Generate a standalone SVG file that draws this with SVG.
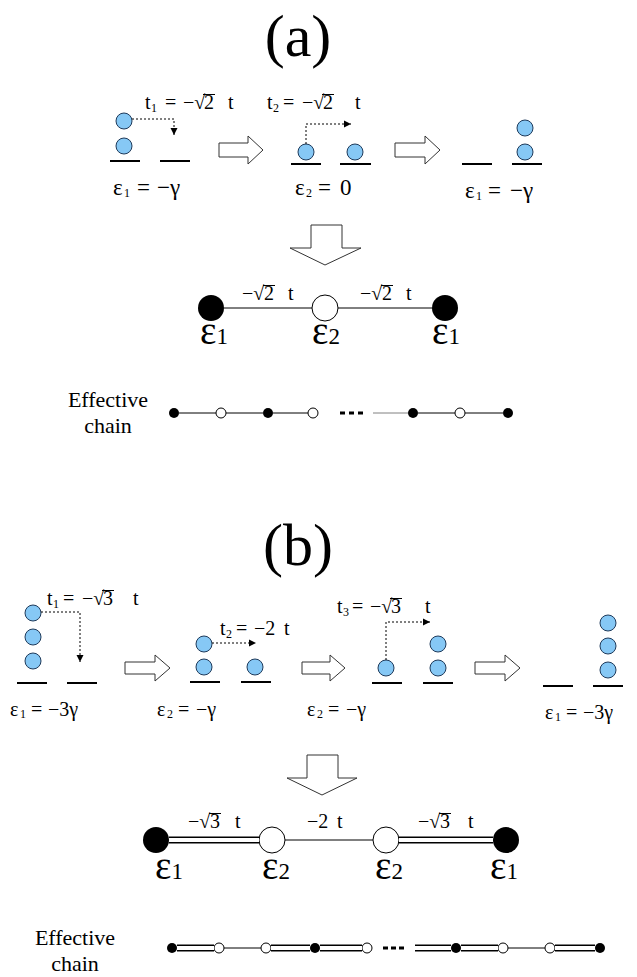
<svg xmlns="http://www.w3.org/2000/svg" width="637" height="977" viewBox="0 0 637 977" font-family="'Liberation Serif', 'Times New Roman', serif">
<defs>
<style>
text{font-family:'Liberation Serif','Times New Roman',serif;fill:#000}
.t{font-size:20px}
.s{font-size:12px}
.e{font-size:23px}
.eb{font-size:20px}
.big{font-size:39px}
.lab{font-size:22px}
.ttl{font-size:60px}
.lvl{stroke:#000;stroke-width:2}
.el{fill:#86c8f5;stroke:#1f3a5a;stroke-width:1}
.hop{fill:none;stroke:#000;stroke-width:1;stroke-dasharray:2 2}
.blk{fill:#fff;stroke:#333;stroke-width:1}
.ln{stroke:#000;stroke-width:1}
.vc{stroke:#000;stroke-width:1}
.dbo{stroke:#000;stroke-width:7}
.dbi{stroke:#fff;stroke-width:4}
.on{fill:#000}
.of{fill:#fff;stroke:#000;stroke-width:1}
</style>
<marker id="ah" markerWidth="8" markerHeight="8" refX="7" refY="4" orient="auto" markerUnits="userSpaceOnUse">
<path d="M0,0.5 L7,4 L0,7.5 Z" fill="#000"/>
</marker>
</defs>

<text class="ttl" x="298" y="56" text-anchor="middle">(a)</text>

<g id="a-panel1">
<circle class="el" cx="124" cy="121" r="8"/>
<circle class="el" cx="124" cy="146" r="8"/>
<line class="lvl" x1="110" y1="161" x2="140" y2="161"/>
<line class="lvl" x1="160" y1="161" x2="190" y2="161"/>
<text class="t" y="109"><tspan x="145">t</tspan><tspan class="s" x="151" dy="3">1</tspan><tspan x="165" dy="-3">=</tspan><tspan x="183">−√</tspan><tspan x="204">2</tspan><tspan x="228">t</tspan></text>
<line class="vc" x1="203" y1="94.5" x2="215" y2="94.5"/>
<text class="e" y="195"><tspan x="113">ε</tspan><tspan class="s" x="124" dy="2">1</tspan><tspan x="137" dy="-2">=</tspan><tspan x="157">−γ</tspan></text>
</g>
<g id="a-panel2">
<circle class="el" cx="306" cy="152" r="8"/>
<circle class="el" cx="355" cy="152" r="8"/>
<line class="lvl" x1="291" y1="164" x2="321" y2="164"/>
<line class="lvl" x1="340" y1="164" x2="371" y2="164"/>
<text class="t" y="109"><tspan x="267">t</tspan><tspan class="s" x="273" dy="3">2</tspan><tspan x="283" dy="-3">=</tspan><tspan x="302">−√</tspan><tspan x="323">2</tspan><tspan x="355">t</tspan></text>
<line class="vc" x1="322" y1="94.5" x2="334" y2="94.5"/>
<text class="e" y="195"><tspan x="295">ε</tspan><tspan class="s" x="306" dy="2">2</tspan><tspan x="318" dy="-2">=</tspan><tspan x="340">0</tspan></text>
</g>
<g id="a-panel3">
<circle class="el" cx="525" cy="128" r="8"/>
<circle class="el" cx="525" cy="152" r="8"/>
<line class="lvl" x1="462" y1="164" x2="492" y2="164"/>
<line class="lvl" x1="512" y1="164" x2="542" y2="164"/>
<text class="e" y="198"><tspan x="465">ε</tspan><tspan class="s" x="476" dy="2">1</tspan><tspan x="488" dy="-2">=</tspan><tspan x="510">−γ</tspan></text>
</g>

<g id="a-chain">
<circle class="on" cx="211" cy="308" r="13"/>
<circle class="of" cx="325" cy="308" r="13"/>
<circle class="on" cx="445" cy="308" r="13"/>
<text class="big" x="200" y="344">ε<tspan font-size="23">1</tspan></text>
<text class="big" x="312" y="344">ε<tspan font-size="23">2</tspan></text>
<text class="big" x="432" y="344">ε<tspan font-size="23">1</tspan></text>
<text class="t" y="300"><tspan x="242">−√</tspan><tspan x="264">2</tspan><tspan x="288">t</tspan></text>
<line class="vc" x1="263" y1="285.5" x2="275" y2="285.5"/>
<text class="t" y="300"><tspan x="360">−√</tspan><tspan x="382">2</tspan><tspan x="406">t</tspan></text>
<line class="vc" x1="381" y1="285.5" x2="393" y2="285.5"/>
</g>

<g id="a-effective">
<text class="lab" x="108" y="407" text-anchor="middle">Effective</text>
<text class="lab" x="108" y="433" text-anchor="middle">chain</text>
<circle class="on" cx="174" cy="413" r="5"/>
<circle class="of" cx="221" cy="413" r="5"/>
<circle class="on" cx="268" cy="413" r="5"/>
<circle class="of" cx="313" cy="413" r="5"/>
<circle class="on" cx="413" cy="413" r="5"/>
<circle class="of" cx="460" cy="413" r="5"/>
<circle class="on" cx="508" cy="413" r="5"/>
</g>

<text class="ttl" x="298" y="565" text-anchor="middle">(b)</text>

<g id="b-panel1">
<circle class="el" cx="33" cy="613" r="8"/>
<circle class="el" cx="33" cy="637" r="8"/>
<circle class="el" cx="33" cy="661" r="8"/>
<line class="lvl" x1="17" y1="683" x2="47" y2="683"/>
<line class="lvl" x1="67" y1="683" x2="97" y2="683"/>
<text class="t" y="605"><tspan x="47">t</tspan><tspan class="s" x="53" dy="3">1</tspan><tspan x="63" dy="-3">=</tspan><tspan x="82">−√</tspan><tspan x="103">3</tspan><tspan x="133">t</tspan></text>
<line class="vc" x1="102" y1="590.5" x2="114" y2="590.5"/>
<text class="eb" y="716"><tspan x="10">ε</tspan><tspan class="s" x="20" dy="2">1</tspan><tspan x="31" dy="-2">=</tspan><tspan x="48">−3γ</tspan></text>
</g>
<g id="b-panel2">
<circle class="el" cx="204" cy="644" r="8"/>
<circle class="el" cx="204" cy="667" r="8"/>
<circle class="el" cx="255" cy="667" r="8"/>
<line class="lvl" x1="190" y1="682" x2="220" y2="682"/>
<line class="lvl" x1="241" y1="682" x2="271" y2="682"/>
<text class="t" y="635"><tspan x="220">t</tspan><tspan class="s" x="226" dy="3">2</tspan><tspan x="236" dy="-3">=</tspan><tspan x="254">−2</tspan><tspan x="284">t</tspan></text>
<text class="eb" y="716"><tspan x="157">ε</tspan><tspan class="s" x="167" dy="2">2</tspan><tspan x="178" dy="-2">=</tspan><tspan x="196">−γ</tspan></text>
</g>
<g id="b-panel3">
<circle class="el" cx="386" cy="668" r="8"/>
<circle class="el" cx="438" cy="644" r="8"/>
<circle class="el" cx="438" cy="668" r="8"/>
<line class="lvl" x1="372" y1="683" x2="402" y2="683"/>
<line class="lvl" x1="423" y1="683" x2="453" y2="683"/>
<text class="t" y="613"><tspan x="337">t</tspan><tspan class="s" x="343" dy="3">3</tspan><tspan x="352" dy="-3">=</tspan><tspan x="370">−√</tspan><tspan x="391">3</tspan><tspan x="425">t</tspan></text>
<line class="vc" x1="390" y1="598.5" x2="402" y2="598.5"/>
<text class="eb" y="716"><tspan x="307">ε</tspan><tspan class="s" x="317" dy="2">2</tspan><tspan x="328" dy="-2">=</tspan><tspan x="346">−γ</tspan></text>
</g>
<g id="b-panel4">
<circle class="el" cx="608" cy="623" r="8"/>
<circle class="el" cx="608" cy="646" r="8"/>
<circle class="el" cx="608" cy="670" r="8"/>
<line class="lvl" x1="543" y1="686" x2="573" y2="686"/>
<line class="lvl" x1="593" y1="686" x2="623" y2="686"/>
<text class="eb" y="719"><tspan x="545">ε</tspan><tspan class="s" x="555" dy="2">1</tspan><tspan x="566" dy="-2">=</tspan><tspan x="583">−3γ</tspan></text>
</g>

<g id="b-chain">
<circle class="on" cx="156" cy="840" r="13"/>
<circle class="of" cx="272" cy="840" r="13"/>
<circle class="of" cx="386" cy="840" r="13"/>
<circle class="on" cx="506" cy="840" r="13"/>
<text class="big" x="155" y="879">ε<tspan font-size="23">1</tspan></text>
<text class="big" x="262" y="879">ε<tspan font-size="23">2</tspan></text>
<text class="big" x="375" y="879">ε<tspan font-size="23">2</tspan></text>
<text class="big" x="490" y="879">ε<tspan font-size="23">1</tspan></text>
<text class="t" y="828"><tspan x="188">−√</tspan><tspan x="210">3</tspan><tspan x="235">t</tspan></text>
<line class="vc" x1="209" y1="813.5" x2="221" y2="813.5"/>
<text class="t" y="828"><tspan x="307">−2</tspan><tspan x="337">t</tspan></text>
<text class="t" y="828"><tspan x="418">−√</tspan><tspan x="440">3</tspan><tspan x="468">t</tspan></text>
<line class="vc" x1="439" y1="813.5" x2="451" y2="813.5"/>
</g>

<g id="b-effective">
<text class="lab" x="75" y="945" text-anchor="middle">Effective</text>
<text class="lab" x="75" y="971" text-anchor="middle">chain</text>
<circle class="on" cx="172" cy="948" r="5"/>
<circle class="of" cx="219" cy="948" r="5"/>
<circle class="of" cx="266" cy="948" r="5"/>
<circle class="on" cx="315" cy="948" r="5"/>
<circle class="of" cx="367" cy="948" r="5"/>
<circle class="on" cx="456" cy="948" r="5"/>
<circle class="of" cx="503" cy="948" r="5"/>
<circle class="of" cx="550" cy="948" r="5"/>
<circle class="on" cx="600" cy="948" r="5"/>
</g>

<g id="connectors">
<polyline class="hop" points="132,119 174,119 174,135" marker-end="url(#ah)"/>
<polyline class="hop" points="306,144 306,124 351,124" marker-end="url(#ah)"/>
<polyline class="hop" points="41,612 80,612 80,662" marker-end="url(#ah)"/>
<polyline class="hop" points="212,643 256,643" marker-end="url(#ah)"/>
<polyline class="hop" points="386,660 386,622 430,622" marker-end="url(#ah)"/>

<polygon class="blk" points="219,143 248,143 248,136 263,150 248,164 248,157 219,157"/>
<polygon class="blk" points="395,143 425,143 425,136 440,150 425,164 425,157 395,157"/>
<polygon class="blk" points="311,225 342,225 342,248 361,248 325,265 290,248 311,248"/>

<polygon class="blk" points="125,662 155,662 155,655 170,668 155,681 155,674 125,674"/>
<polygon class="blk" points="302,662 330,662 330,655 345,668 330,681 330,674 302,674"/>
<polygon class="blk" points="475,662 505,662 505,655 520,668 505,681 505,674 475,674"/>
<polygon class="blk" points="307,755 338,755 338,778 357,778 322,795 287,778 307,778"/>

<line class="ln" x1="224" y1="308" x2="312" y2="308"/>
<line class="ln" x1="338" y1="308" x2="432" y2="308"/>

<line class="ln" x1="179" y1="413" x2="216" y2="413"/>
<line class="ln" x1="226" y1="413" x2="263" y2="413"/>
<line class="ln" x1="273" y1="413" x2="308" y2="413"/>
<line x1="340" y1="413" x2="363" y2="413" stroke="#000" stroke-width="3" stroke-dasharray="5 4"/>
<line x1="373" y1="413" x2="408" y2="413" stroke="#808080" stroke-width="1"/>
<line class="ln" x1="418" y1="413" x2="455" y2="413"/>
<line class="ln" x1="465" y1="413" x2="503" y2="413"/>

<line class="dbo" x1="169" y1="840" x2="259" y2="840"/>
<line class="dbi" x1="169" y1="840" x2="259" y2="840"/>
<line class="ln" x1="285" y1="840" x2="373" y2="840"/>
<line class="dbo" x1="399" y1="840" x2="493" y2="840"/>
<line class="dbi" x1="399" y1="840" x2="493" y2="840"/>

<line class="dbo" x1="177" y1="948" x2="214" y2="948"/>
<line class="dbi" x1="177" y1="948" x2="214" y2="948"/>
<line class="ln" x1="224" y1="948" x2="261" y2="948"/>
<line class="dbo" x1="271" y1="948" x2="310" y2="948"/>
<line class="dbi" x1="271" y1="948" x2="310" y2="948"/>
<line class="dbo" x1="320" y1="948" x2="362" y2="948"/>
<line class="dbi" x1="320" y1="948" x2="362" y2="948"/>
<line x1="383" y1="948" x2="404" y2="948" stroke="#000" stroke-width="3" stroke-dasharray="5 3"/>
<line class="dbo" x1="415" y1="948" x2="451" y2="948"/>
<line class="dbi" x1="415" y1="948" x2="451" y2="948"/>
<line class="dbo" x1="461" y1="948" x2="498" y2="948"/>
<line class="dbi" x1="461" y1="948" x2="498" y2="948"/>
<line class="ln" x1="508" y1="948" x2="545" y2="948"/>
<line class="dbo" x1="555" y1="948" x2="595" y2="948"/>
<line class="dbi" x1="555" y1="948" x2="595" y2="948"/>
</g>
</svg>
